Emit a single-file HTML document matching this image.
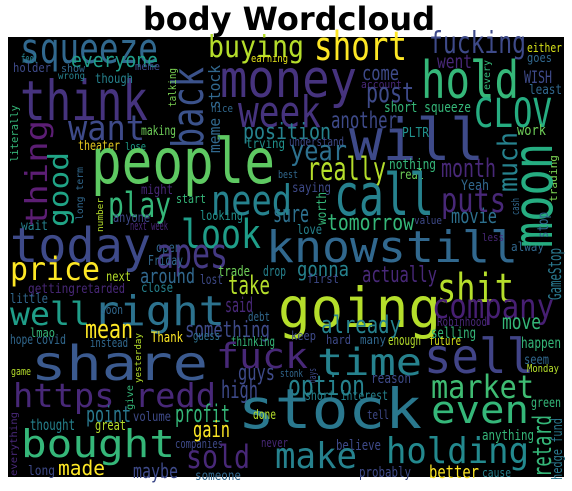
<!DOCTYPE html>
<html><head><meta charset="utf-8"><style>
html,body{margin:0;padding:0;background:#fff;}
#wrap{position:relative;width:572px;height:491px;overflow:hidden;}
#words text{font-family:"DejaVu Sans Mono","Liberation Mono",monospace;}
</style></head><body>
<div id="wrap">
<svg id="svg" width="572" height="491" xmlns="http://www.w3.org/2000/svg">
<text x="289" y="30" text-anchor="middle" style="font-family:'DejaVu Sans','Liberation Sans',sans-serif;font-weight:bold;font-size:32px" fill="#000">body Wordcloud</text>
<rect x="8" y="37" width="556" height="440" fill="#000"/>
<g id="words"></g>
</svg>
</div>
<script>
const P='#482878',D='#46337e',B='#3e4a89',b='#31688e',T='#26828e',G='#1f9e89',g='#35b779',L='#6ece58',Y='#b5de2b',y='#fde725';
// horizontal words: text, x-left, x-right, baseline, size, color
const words=[
['squeeze',20,158,63,42,b],['think',20,148,120,55,D],['buying',208,304,57,30,Y],['money',220,357,97,52,D],
['everyone',71,158,67,20,G],['feel',21,38,63,12,T],['holder',13,51,72,12,B],['show',61,85,72,11,b],['wrong',58,85,79,10,T],
['though',95,133,83,13,T],['meme',135,160,70,11,B],['nice',211,233,112,11,b],['earning',251,288,62,11,'#e5e419'],
['week',238,321,127,44,D],['want',68,145,140,35,B],['theater',78,120,150,13,'#e3c720'],['lose',125,146,150,11,G],
['making',141,176,135,13,L],['position',243,331,139,22,T],['trying',246,285,148,13,'#21918c'],['people',91,275,183,62,'#5ec962'],
['best',278,298,178,11,b],['need',211,292,215,42,T],['play',108,171,217,35,g],['might',141,173,194,13,P],['start',176,206,203,12,g],
['looking',200,243,220,13,'#21918c'],['sure',273,309,222,24,'#2d708e'],['anyone',113,150,222,13,B],['wait',21,48,230,13,T],
['next week',130,168,230,12,P],['today',10,151,262,48,B],['open',156,181,252,13,b],['look',181,261,248,40,G],['apes',156,228,268,42,'#443983'],
['knowstill',266,518,262,44,b],
['short',314,407,60,40,y],['fucking',429,526,53,30,B],['either',527,562,52,12,'#d8e219'],['goes',527,552,62,12,b],['went',437,472,68,19,P],
['hold',421,519,98,52,g],['come',362,399,80,20,B],['account',361,402,88,11,P],['WISH',524,552,83,17,B],['least',529,562,94,13,b],
['post',366,414,102,28,B],['CLOV',474,552,127,40,'#26ad81'],['short squeeze',384,471,112,14,g],['another',331,397,128,23,B],
['will',349,484,160,58,B],['PLTR',402,429,137,13,'#21918c'],['work',517,546,135,14,L],['understand',289,344,146,12,B],
['year',290,347,160,28,'#2d708e'],['nothing',389,436,169,14,g],['real',399,424,179,13,L],['really',307,386,180,32,Y],
['month',441,496,177,26,P],['saying',292,331,192,13,B],['Yeah',461,489,190,14,b],['call',334,434,215,58,T],['puts',441,506,212,34,P],
['movie',451,497,223,20,'#2d708e'],['value',414,442,224,11,B],['tomorrow',327,414,230,22,g],['love',297,322,234,13,T],
['less',482,504,241,11,P],['alway',511,544,251,12,b],
['price',10,100,280,32,y],['Friday',148,183,265,13,b],['next',106,131,281,13,Y],['around',140,195,283,20,b],['lost',200,223,284,13,B],
['trade',218,250,276,14,L],['drop',263,286,276,14,T],['take',228,270,294,26,Y],['getting',28,75,293,13,P],['retarded',75,125,293,13,P],
['close',141,173,292,13,T],['little',10,48,303,13,b],['well',10,90,325,32,G],['right',93,225,325,41,'#2c728e'],['soon',100,123,314,12,b],
['said',225,253,312,20,P],['debt',248,270,321,12,b],['mean',85,133,338,26,y],['something',185,270,337,22,B],['lmao',30,55,337,12,g],
['hope',10,33,344,13,b],['covid',36,66,344,13,b],['instead',90,128,347,12,b],['Thank',151,183,342,14,y],['guess',193,220,340,12,'#2d708e'],
['thinking',231,275,346,13,g],['share',31,208,380,48,'#3b5a8f'],['going',278,441,327,55,Y],['fuck',216,308,368,35,P],
['time',317,422,375,37,T],['sell',424,534,373,48,'#414487'],['https redd',13,216,407,33,P],['option',288,365,395,28,T],
['guys',238,275,380,22,B],['high',221,258,398,24,B],['already',321,401,333,24,T],['keep',291,316,340,12,B],['hard',326,351,344,12,B],
['many',360,386,344,12,b],['enough',388,421,345,14,Y],['stonk',280,303,377,11,b],['reason',371,411,383,14,B],
['short interest',305,388,400,13,T],['game',11,31,375,11,Y],['stock',238,422,428,55,'#2a788e'],
['gonna',297,349,276,20,T],['first',307,339,283,12,B],['actually',362,437,282,22,P],['shit',437,514,302,40,Y],['company',432,554,318,34,'#471f73'],
['Robinhood',437,487,326,12,P],['move',502,541,329,21,g],['selling',431,476,338,15,g],['future',429,461,345,12,'#d8e219'],
['happen',521,561,348,15,g],['seem',524,549,364,13,b],['Monday',527,559,372,11,Y],['market',431,534,398,32,'#3fbc73'],
['green',531,561,407,13,g],['even',431,529,423,38,g],['tell',367,389,419,12,B],['anything',482,534,440,14,g],['believe',336,381,450,14,B],
['make',275,357,468,36,T],['holding',386,529,463,36,'#23898e'],['probably',359,411,477,14,B],['better',429,479,478,18,y],['cause',482,511,477,12,T],
['never',261,288,447,12,P],['point',86,131,422,22,'#2a788e'],['volume',133,171,421,13,B],['profit',175,230,422,24,g],['done',253,276,419,13,Y],
['thought',30,75,430,15,T],['great',95,126,430,14,Y],['gain',193,230,437,22,y],['bought',21,175,457,38,g],['companies',175,223,448,12,B],
['sold',186,250,468,32,P],['made',58,105,475,20,y],['long',28,55,475,13,B],['maybe',133,178,478,20,B],['someone',195,241,480,13,b]
];
// vertical words (read bottom-up): text, baseline-x, y-top, y-bottom, size, color
const vwords=[
['back',203,67,148,44,'#3b528b'],['talking',176,68,107,11,'#7ad151'],['meme stock',220,65,153,16,b],['thing',47,120,227,30,'#5c1e74'],
['good',68,152,227,28,'#20a486'],['literally',18,105,162,11,g],['long term',83,167,220,10,b],['number',103,198,232,9,Y],
['yesterday',141,333,383,9,Y],['every',490,60,90,10,g],['much',517,132,192,27,T],['trading',557,155,202,11,'#7ad151'],
['moon',552,143,248,55,'#26ad81'],['worth',326,192,225,13,g],['cash',519,198,215,11,b],['stop',548,212,238,15,b],
['GameStop',561,248,300,18,'#2a788e'],['days',316,368,383,11,B],['give',133,385,410,10,g],['retard',551,415,477,26,g],
['hedge fund',562,418,480,14,'#2a788e'],['everything',17,412,476,10,P]
];
const NS='http://www.w3.org/2000/svg';
const grp=document.getElementById('words');
function slug(s){return 'word-'+s.toLowerCase().replace(/[^a-z0-9]+/g,'-');}
for(const w of words){
  const t=document.createElementNS(NS,'text');
  t.setAttribute('x',w[1]);t.setAttribute('y',w[3]);
  t.setAttribute('font-size',w[4]);t.setAttribute('fill',w[5]);
  t.setAttribute('textLength',w[2]-w[1]);t.setAttribute('lengthAdjust','spacingAndGlyphs');
  t.textContent=w[0];
  
  
  grp.appendChild(t);
}
for(const w of vwords){
  const t=document.createElementNS(NS,'text');
  t.setAttribute('x',0);t.setAttribute('y',0);
  t.setAttribute('transform','translate('+w[1]+','+w[3]+') rotate(-90)');
  t.setAttribute('font-size',w[4]);t.setAttribute('fill',w[5]);
  t.setAttribute('textLength',w[3]-w[2]);t.setAttribute('lengthAdjust','spacingAndGlyphs');
  t.textContent=w[0];
  
  
  grp.appendChild(t);
}
</script>
</body></html>
